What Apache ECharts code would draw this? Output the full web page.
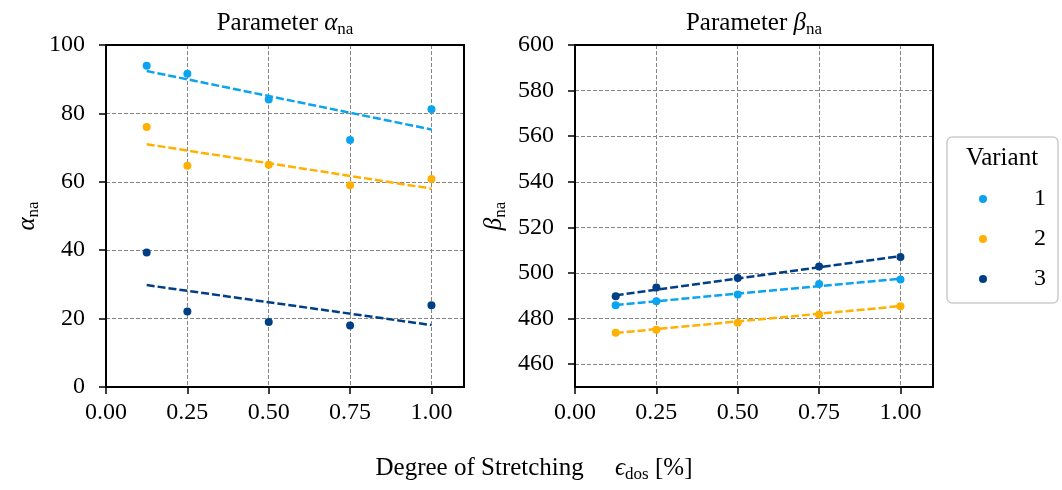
<!DOCTYPE html>
<html>
<head>
<meta charset="utf-8">
<script src="https://cdn.jsdelivr.net/npm/echarts@6/dist/echarts.min.js"></script>
<style>
  html, body { margin: 0; padding: 0; background: #fff; }
  #chart { width: 1062px; height: 490px; }
</style>
</head>
<body>
<div id="chart"></div>
<script>
// degree of stretching (x)
const strain = [0.125, 0.25, 0.5, 0.75, 1.0];
const variants = ['1', '2', '3'];

// parameter alpha_na, per variant
const alpha1 = [93.9, 91.6, 84.1, 72.2, 81.2];
const alpha2 = [76.0, 64.7, 65.0, 59.0, 60.8];
const alpha3 = [39.3, 22.1, 19.0, 18.0, 23.9];

// parameter beta_na, per variant
const beta1 = [485.9, 487.6, 490.6, 495.2, 497.2];
const beta2 = [473.8, 475.1, 478.2, 481.8, 485.4];
const beta3 = [489.8, 493.6, 497.8, 502.8, 507.0];

// dashed trend lines, value at start / end of fitX
const fitX = [0.125, 1.0];
const alphaFit1 = [92.4, 75.3];
const alphaFit2 = [71.0, 58.0];
const alphaFit3 = [29.8, 18.1];
const betaFit1 = [486.0, 497.5];
const betaFit2 = [473.7, 485.5];
const betaFit3 = [490.2, 507.4];

// tick labels
const xTicks = [0, 0.25, 0.5, 0.75, 1.0];
const alphaTicks = [0, 20, 40, 60, 80, 100];
const betaTicks = [460, 480, 500, 520, 540, 560, 580, 600];

const colors = ['#0AA3EF', '#FFB000', '#003F85'];
const FONT = "'Liberation Serif', 'DejaVu Serif', serif";

const chart = echarts.init(document.getElementById('chart'));

const pairs = (xs, ys) => xs.map((x, i) => [x, ys[i]]);

const subRich = {
  m: { fontFamily: FONT, fontSize: 25, fontStyle: 'italic', color: '#000', lineHeight: 30 },
  t: { fontFamily: FONT, fontSize: 25, color: '#000', lineHeight: 30 },
  s: { fontFamily: FONT, fontSize: 17, color: '#000', lineHeight: 17, verticalAlign: 'bottom' }
};

function mainX(gi) {
  return {
    type: 'value', gridIndex: gi, min: 0, max: 1.1, interval: 0.25,
    axisLine: { show: true, onZero: false, lineStyle: { color: '#000', width: 2 } },
    axisTick: { show: true, length: 7, inside: false, customValues: xTicks, lineStyle: { color: '#000', width: 1.5 } },
    axisLabel: {
      customValues: xTicks, margin: 14, fontFamily: FONT, fontSize: 24, color: '#000',
      formatter: v => (v > 1.05 ? '' : v.toFixed(2))
    },
    splitLine: { show: true, lineStyle: { color: '#858585', width: 1, type: [4, 2] } }
  };
}

function frameX(gi) {
  return {
    type: 'value', gridIndex: gi, position: 'top', min: 0, max: 1.1,
    axisLine: { show: true, onZero: false, lineStyle: { color: '#000', width: 2 } },
    axisTick: { show: false }, axisLabel: { show: false }, splitLine: { show: false }
  };
}

function frameY(gi, min, max) {
  return {
    type: 'value', gridIndex: gi, position: 'right', min: min, max: max,
    axisLine: { show: true, onZero: false, lineStyle: { color: '#000', width: 2 } },
    axisTick: { show: false }, axisLabel: { show: false }, splitLine: { show: false }
  };
}

function mainY(gi, min, max, ticks, extra, name, gap) {
  return Object.assign({
    type: 'value', gridIndex: gi, min: min, max: max,
    name: name, nameLocation: 'middle', nameGap: gap, nameRotate: 90,
    nameTextStyle: { rich: subRich },
    axisLine: { show: true, onZero: false, lineStyle: { color: '#000', width: 2 } },
    axisTick: { show: true, length: 7, customValues: ticks, lineStyle: { color: '#000', width: 1.5 } },
    axisLabel: {
      customValues: ticks, margin: 21, fontFamily: FONT, fontSize: 24, color: '#000',
      formatter: v => (ticks.indexOf(v) < 0 ? '' : String(v))
    },
    splitLine: { show: true, lineStyle: { color: '#858585', width: 1, type: [4, 2] } }
  }, extra);
}

function scatter(name, xi, yi, ys, ci) {
  return {
    name: name, type: 'scatter', xAxisIndex: xi, yAxisIndex: yi,
    data: pairs(strain, ys), symbol: 'circle', symbolSize: 8,
    itemStyle: { color: colors[ci], opacity: 1 }, z: 3
  };
}

function fit(name, xi, yi, ys, ci) {
  return {
    name: name, type: 'line', xAxisIndex: xi, yAxisIndex: yi,
    data: pairs(fitX, ys), showSymbol: false, symbol: 'none',
    lineStyle: { color: colors[ci], width: 2.5, type: [8, 3] }, z: 2
  };
}

const option = {
  animation: false,
  backgroundColor: '#fff',
  grid: [
    { left: 106, top: 45, width: 358, height: 342 },
    { left: 575, top: 45, width: 358, height: 342 }
  ],
  xAxis: [mainX(0), mainX(1), frameX(0), frameX(1)],
  yAxis: [
    mainY(0, 0, 100, alphaTicks, { interval: 20 }, '{m|α}{s|na}', 64),
    mainY(1, 450, 600, betaTicks, { splitNumber: 7 }, '{m|β}{s|na}', 66),
    frameY(0, 0, 100),
    frameY(1, 450, 600)
  ],
  legend: {
    orient: 'vertical', left: 947, top: 137,
    data: variants, icon: 'circle', itemWidth: 8, itemHeight: 8, itemGap: 16,
    padding: [50, 12, 12, 32],
    borderColor: '#cccccc', borderWidth: 1.5, borderRadius: 5,
    textStyle: { fontFamily: FONT, fontSize: 24, color: '#000', padding: [0, 0, 0, 42] },
    selectedMode: false
  },
  graphic: [
    { type: 'text', x: 285, y: 23, style: { text: 'Parameter {m|α}{s|na}', rich: subRich, font: '25px ' + FONT, fill: '#000', align: 'center', verticalAlign: 'middle' } },
    { type: 'text', x: 754, y: 23, style: { text: 'Parameter {m|β}{s|na}', rich: subRich, font: '25px ' + FONT, fill: '#000', align: 'center', verticalAlign: 'middle' } },
    { type: 'text', x: 534, y: 468, style: { text: '{t|Degree of Stretching     }{m|ϵ}{s|dos}{t| [%]}', rich: subRich, font: '25px ' + FONT, fill: '#000', align: 'center', verticalAlign: 'middle' } },
    { type: 'text', x: 1002, y: 158, style: { text: 'Variant', font: '25px ' + FONT, fill: '#000', align: 'center', verticalAlign: 'middle' } }
  ],
  series: [
    fit('fit1a', 0, 0, alphaFit1, 0),
    fit('fit2a', 0, 0, alphaFit2, 1),
    fit('fit3a', 0, 0, alphaFit3, 2),
    scatter('1', 0, 0, alpha1, 0),
    scatter('2', 0, 0, alpha2, 1),
    scatter('3', 0, 0, alpha3, 2),
    fit('fit1b', 1, 1, betaFit1, 0),
    fit('fit2b', 1, 1, betaFit2, 1),
    fit('fit3b', 1, 1, betaFit3, 2),
    scatter('1', 1, 1, beta1, 0),
    scatter('2', 1, 1, beta2, 1),
    scatter('3', 1, 1, beta3, 2)
  ]
};

chart.setOption(option);
</script>
</body>
</html>
